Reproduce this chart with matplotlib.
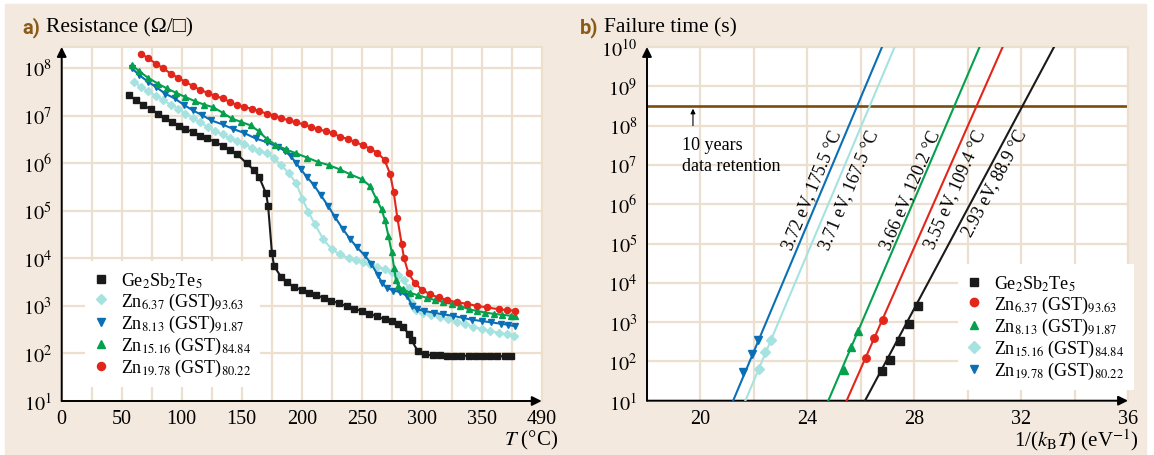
import numpy as np
import matplotlib
matplotlib.use("Agg")
import matplotlib.pyplot as plt
from matplotlib.patches import Rectangle
from matplotlib.ticker import MultipleLocator, NullLocator

plt.rcParams["font.family"] = ["Liberation Serif", "DejaVu Serif", "DejaVu Sans"]
plt.rcParams["mathtext.fontset"] = "stix"

# ---------------------------------------------------------------- data (a)
# sheet resistance (ohm/sq) versus annealing temperature (degC)
gst_T = [56, 62, 68, 74, 80, 86, 92, 98, 103, 109, 115, 121, 128, 134, 140, 146,
         154, 160, 164.5, 170.3, 172, 175.2, 177, 183, 187.6, 193.7, 200, 206, 212,
         218.5, 224.6, 231.4, 237.5, 243.7, 250.2, 256.3, 262.5, 269, 275, 280.6,
         284.6, 289.5, 291.5, 296.9, 303, 309, 315, 321, 327, 333, 339, 345, 351,
         357, 363, 369, 374]
gst_R = [2.7e7, 2.1e7, 1.66e7, 1.35e7, 1.1e7, 8.9e6, 7.4e6, 6.0e6, 5.1e6, 4.6e6,
         3.8e6, 3.3e6, 2.8e6, 2.3e6, 1.9e6, 1.55e6, 1.0e6, 7.2e5, 5.1e5, 2.3e5,
         1.26e5, 1.29e4, 6.8e3, 4.0e3, 3.1e3, 2.5e3, 2.14e3, 1.86e3, 1.66e3, 1.48e3,
         1.29e3, 1.12e3, 980, 870, 780, 690, 600, 525, 470, 410, 355, 250, 190, 110,
         95, 91, 91, 90, 90, 89, 89, 88, 88, 87, 87, 87, 87]

zn637_T = [60, 66, 72, 78.5, 84.6, 90.8, 97, 103, 109, 115, 121.5, 127.7, 134, 140,
           146, 152, 158.5, 164.6, 171, 177, 183, 189, 195.4, 200.5, 205.5, 211, 218,
           225, 232, 239, 245, 251, 257, 263, 269, 275, 280, 285, 289, 292, 295, 301,
           308, 315, 322, 329, 336, 343, 350, 357, 364, 371, 377]
zn637_R = [5.1e7, 4.0e7, 3.2e7, 2.6e7, 2.1e7, 1.7e7, 1.4e7, 1.1e7, 8.9e6, 7.2e6,
           5.8e6, 4.7e6, 4.0e6, 3.3e6, 2.9e6, 2.5e6, 2.1e6, 1.8e6, 1.6e6, 1.26e6,
           9.1e5, 6.2e5, 3.8e5, 1.8e5, 9.5e4, 5.2e4, 2.5e4, 1.55e4, 1.2e4, 1.02e4,
           9.3e3, 8.3e3, 7.4e3, 6.6e3, 5.9e3, 5.2e3, 4.5e3, 3.5e3, 2.4e3, 1.12e3,
           830, 720, 650, 590, 525, 460, 410, 365, 325, 295, 275, 250, 235]

zn813_T = [58.5, 64.6, 72, 78.5, 86, 94, 101.5, 109, 117, 124.6, 134, 143, 152,
           161.5, 171, 180, 186, 191, 195.4, 199, 204, 210, 216, 222, 228, 234, 240,
           246, 252.5, 258, 263.5, 267, 271, 276, 282, 288, 292, 296, 302, 310, 318,
           326, 334, 342, 350, 358, 366, 372, 378]
zn813_R = [9.8e7, 7.1e7, 5.1e7, 4.0e7, 2.9e7, 2.3e7, 1.7e7, 1.29e7, 1.02e7, 7.9e6,
           6.5e6, 5.2e6, 4.3e6, 3.3e6, 2.75e6, 2.2e6, 1.8e6, 1.38e6, 1.0e6, 7.6e5,
           5.2e5, 3.5e5, 2.1e5, 1.26e5, 7.2e4, 4.2e4, 2.6e4, 1.7e4, 1.15e4, 7.6e3,
           4.4e3, 3.0e3, 2.4e3, 2.1e3, 1.95e3, 1.6e3, 1.0e3, 850, 780, 720, 660, 620,
           560, 510, 480, 450, 420, 400, 370]

zn1516_T = [58.5, 64.6, 72, 80, 87.7, 95.4, 103, 111, 118.5, 126, 134, 141.5, 149,
            157.5, 164, 171, 178, 186.5, 195.5, 204.6, 213.8, 222.5, 231.5, 240.5,
            250, 257, 262, 266.5, 269.4, 272.2, 275, 277, 278.5, 280.5, 284, 290, 297,
            304, 311, 318, 325, 332, 339, 346, 353, 360, 367, 374, 378]
zn1516_R = [1.15e8, 8.5e7, 6.2e7, 4.7e7, 3.7e7, 3.0e7, 2.45e7, 2.0e7, 1.7e7, 1.5e7,
            1.15e7, 8.7e6, 7.4e6, 6.2e6, 4.7e6, 3.2e6, 2.45e6, 1.95e6, 1.6e6, 1.3e6,
            1.05e6, 9.1e5, 7.4e5, 5.8e5, 4.6e5, 3.3e5, 1.8e5, 1.07e5, 6.3e4, 3.0e4,
            1.35e4, 6.3e3, 3.5e3, 2.6e3, 2.24e3, 1.9e3, 1.66e3, 1.48e3, 1.32e3, 1.2e3,
            1.1e3, 1.0e3, 850, 780, 720, 680, 650, 620, 600]

zn1978_T = [66, 72, 78.5, 84.6, 90.8, 97, 103, 109, 115, 121.5, 127.7, 134, 140, 146,
            152, 158.5, 164.6, 171, 177, 183, 189, 195.4, 201.5, 207.7, 213.8, 220,
            226, 232, 238.5, 244.6, 250.8, 257, 263, 269, 273.6, 276.6, 279.7, 283.3,
            285.3, 289, 294.4, 300, 307, 314, 321, 329, 337.5, 346, 354, 364, 371, 378]
zn1978_R = [2.0e8, 1.6e8, 1.23e8, 9.8e7, 7.6e7, 6.2e7, 5.1e7, 4.2e7, 3.5e7, 3.0e7,
            2.6e7, 2.3e7, 1.95e7, 1.66e7, 1.5e7, 1.4e7, 1.23e7, 1.1e7, 1.0e7, 8.9e6,
            7.9e6, 7.2e6, 6.5e6, 5.8e6, 5.1e6, 4.7e6, 4.2e6, 3.6e6, 3.2e6, 2.75e6,
            2.4e6, 2.0e6, 1.66e6, 1.17e6, 6.0e5, 2.5e5, 7.1e4, 2.0e4, 1.0e4, 4.8e3,
            3.0e3, 2.2e3, 1.74e3, 1.5e3, 1.32e3, 1.2e3, 1.1e3, 1.0e3, 930, 850, 810, 790]

temp_ticks = [0, 50, 100, 150, 200, 250, 300, 350, 400]
temp_ticklabels = ["0", "50", "100", "150", "200", "250", "300", "350", "490"]

# ---------------------------------------------------------------- data (b)
# failure time (s) versus 1/(kB T) (1/eV), Arrhenius fits
ea_eV = [2.93, 3.55, 3.66, 3.71, 3.72]
t10y_degC = [88.9, 109.4, 120.2, 167.5, 175.5]
inv_kT_pts = [[26.78, 27.08, 27.46, 27.81, 28.14],
              [26.19, 26.51, 26.82],
              [25.36, 25.64, 25.91],
              [22.20, 22.41, 22.64],
              [21.58, 21.93, 22.16]]
fail_t_pts = [[58, 110, 340, 870, 2500],
              [120, 390, 1150],
              [62, 230, 600],
              [65, 170, 355],
              [55, 150, 350]]
inv_kT_ticks = [20, 24, 28, 32, 36]

labels = ["Ge$_2$Sb$_2$Te$_5$",
          "Zn$_{6.37}$ (GST)$_{93.63}$",
          "Zn$_{8.13}$ (GST)$_{91.87}$",
          "Zn$_{15.16}$ (GST)$_{84.84}$",
          "Zn$_{19.78}$ (GST)$_{80.22}$"]

# ---------------------------------------------------------------- style
W, H = 1154, 456
BG = "#F3E9DF"
GRID = "#EDDFCD"
TAG = "#8A5A16"
HLINE = "#7B4B0C"
C_BLACK = "#1A1A1A"
C_CYAN = "#A6E3E0"
C_BLUE = "#0B6FB5"
C_GREEN = "#05A04D"
C_RED = "#E2261C"

fig = plt.figure(figsize=(W / 100, H / 100), dpi=100, facecolor="white")
fig.add_artist(Rectangle((5 / W, 0), (1146 - 5) / W, (H - 5) / H,
                         transform=fig.transFigure, color=BG, zorder=-10))


def px_axes(x0, x1, ytop, ybot):
    return fig.add_axes([x0 / W, 1 - ybot / H, (x1 - x0) / W, (ybot - ytop) / H])


def style(ax):
    ax.set_facecolor("white")
    for s in ("top", "right"):
        ax.spines[s].set_color(GRID)
        ax.spines[s].set_linewidth(1.5)
    for s in ("left", "bottom"):
        ax.spines[s].set_visible(False)
    ax.tick_params(which="both", length=0, labelsize=14.5)
    ax.tick_params(axis="y", pad=7)
    ax.tick_params(axis="x", pad=6)
    ax.grid(True, which="both", color=GRID, lw=1.6)
    ax.set_axisbelow(True)
    arrow = dict(arrowstyle="-|>", color="black", lw=1.4, mutation_scale=14,
                 shrinkA=0, shrinkB=0)
    ax.annotate("", xy=(0, 1), xytext=(0, 0), xycoords="axes fraction",
                arrowprops=arrow, annotation_clip=False)
    ax.annotate("", xy=(1, 0), xytext=(0, 0), xycoords="axes fraction",
                arrowprops=arrow, annotation_clip=False)


def fig_text(x, y, s, **kw):
    fig.text(x / W, 1 - y / H, s, **kw)


legend_kw = dict(loc="upper left", borderaxespad=0, frameon=True, fancybox=False,
                 facecolor="white", edgecolor="none", framealpha=1, fontsize=13,
                 handlelength=0.8, handletextpad=0.7, labelspacing=0.06,
                 borderpad=0.5)

# ---------------------------------------------------------------- panel (a)
ax_a = px_axes(61.7, 541.7, 48, 402)
ax_a.set_yscale("log")
ax_a.set_xlim(0, 400)
ax_a.set_ylim(10, 10 ** 8.44)
ax_a.set_xticks(temp_ticks)
ax_a.set_xticklabels(temp_ticklabels)
ax_a.xaxis.set_minor_locator(MultipleLocator(25))
ax_a.set_yticks([10.0 ** k for k in range(1, 9)])
ax_a.set_yticklabels(["$10^{%d}$" % k for k in range(1, 9)])
ax_a.yaxis.set_minor_locator(NullLocator())
style(ax_a)

series_a = [(gst_T, gst_R, C_BLACK, "s", 4.3),
            (zn637_T, zn637_R, C_CYAN, "D", 3.6),
            (zn813_T, zn813_R, C_BLUE, "v", 4.6),
            (zn1516_T, zn1516_R, C_GREEN, "^", 4.6),
            (zn1978_T, zn1978_R, C_RED, "o", 4.4)]
for (t, r, c, m, ms), lab in zip(series_a, labels):
    ax_a.plot(t, r, color=c, lw=1.5, marker=m, ms=ms, mec=c, mfc=c, zorder=3)
    ax_a.plot([], [], ls="none", color=c, marker=m, ms=ms + 1.4, label=lab)

leg_a = ax_a.legend(bbox_to_anchor=(0.048, 0.395), **legend_kw)
leg_a.set_zorder(5)

fig_text(22, 28, "a)", fontsize=14.5, fontweight="bold", color=TAG,
         family="Roboto", va="center", ha="left")
fig_text(46, 28, "Resistance (Ω/□)", fontsize=15.5, va="center", ha="left")
fig_text(558, 440, "$T$ (°C)", fontsize=15, va="center", ha="right")

# ---------------------------------------------------------------- panel (b)
ax_b = px_axes(647, 1128, 48, 401.7)
ax_b.set_yscale("log")
ax_b.set_xlim(18, 36)
ax_b.set_ylim(10, 1e10)
ax_b.set_xticks(inv_kT_ticks)
ax_b.xaxis.set_minor_locator(MultipleLocator(2))
ax_b.set_yticks([10.0 ** k for k in range(1, 11)])
ax_b.set_yticklabels(["$10^{%d}$" % k for k in range(1, 11)])
ax_b.yaxis.set_minor_locator(NullLocator())
style(ax_b)

KB = 8.617333e-5                     # eV/K
TEN_YEARS = 10 * 365.25 * 24 * 3600  # s
ax_b.axhline(TEN_YEARS, color=HLINE, lw=1.9, zorder=2)

colors_b = [C_BLACK, C_RED, C_GREEN, C_CYAN, C_BLUE]
markers_b = ["s", "o", "^", "D", "v"]
msize_b = [5.4, 5.4, 5.8, 4.8, 5.8]
# label offset from its fit line (points, horizontal) and height (decades)
label_dx = [9.0, 10.5, -6.5, 10.5, -7.5]
label_logy = [6.56, 6.39, 6.39, 6.39, 6.39]

xs = np.linspace(18, 36, 400)
for i in range(5):
    ea, tc = ea_eV[i], t10y_degC[i]
    x10 = 1.0 / (KB * (tc + 273.15))
    slope = ea / np.log(10)
    logt = np.log10(TEN_YEARS) + slope * (xs - x10)
    ax_b.plot(xs, 10 ** logt, color=colors_b[i], lw=1.5, zorder=3)
    ax_b.plot(inv_kT_pts[i], fail_t_pts[i], ls="none", marker=markers_b[i],
              ms=msize_b[i], color=colors_b[i], zorder=4)
    ax_b.plot([], [], ls="none", marker=markers_b[i], ms=6, color=colors_b[i],
              label=labels[i])

fig.canvas.draw()
for i in range(5):
    ea, tc = ea_eV[i], t10y_degC[i]
    x10 = 1.0 / (KB * (tc + 273.15))
    slope = ea / np.log(10)
    ly = label_logy[i]
    xl = x10 + (ly - np.log10(TEN_YEARS)) / slope
    p0 = ax_b.transData.transform((xl, 10 ** ly))
    p1 = ax_b.transData.transform((xl + 1, 10 ** (ly + slope)))
    ang = np.degrees(np.arctan2(p1[1] - p0[1], p1[0] - p0[0]))
    ax_b.annotate("%.2f eV, %.1f °C" % (ea, tc), xy=(xl, 10 ** ly),
                  xytext=(label_dx[i], 0), textcoords="offset points",
                  rotation=ang, rotation_mode="anchor", ha="center",
                  va="center", fontsize=13, zorder=5)

ax_b.text(19.3, 10 ** 7.53, "10 years", fontsize=13, va="center", ha="left")
ax_b.text(19.3, 10 ** 6.98, "data retention", fontsize=13, va="center", ha="left")
ax_b.annotate("", xy=(19.72, 10 ** 8.43), xytext=(19.72, 10 ** 8.0),
              arrowprops=dict(arrowstyle="-|>", color="black", lw=0.8,
                              mutation_scale=7, shrinkA=0, shrinkB=0))

leg_b = ax_b.legend(bbox_to_anchor=(0.647, 0.386), **legend_kw)
leg_b.set_zorder(5)

fig_text(580, 28, "b)", fontsize=14.5, fontweight="bold", color=TAG,
         family="Roboto", va="center", ha="left")
fig_text(604, 28, "Failure time (s)", fontsize=15.5, va="center", ha="left")
fig_text(1139, 440, "1/($k_{\\mathrm{B}}T$) (eV$^{-1}$)", fontsize=15,
         va="center", ha="right")

fig.savefig("out.png", dpi=100, facecolor="white")
